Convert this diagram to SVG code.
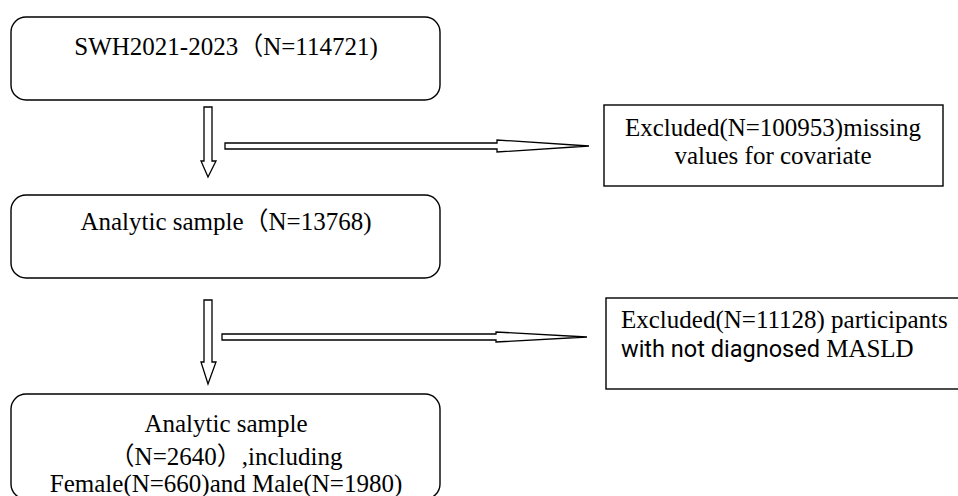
<svg xmlns="http://www.w3.org/2000/svg" width="958" height="496" viewBox="0 0 958 496">
<style>
.box{fill:#fff;stroke:#000;stroke-width:1.4}
.arr{fill:#fff;stroke:#000;stroke-width:1.3;stroke-linejoin:miter}
.t{font-family:"Liberation Serif","Noto Sans CJK SC",serif;font-size:25px;fill:#000}
.s{font-family:Roboto,"Noto Sans",sans-serif;font-size:23.5px}
</style>
<rect width="958" height="496" fill="#fff"/>
<g id="connectors">
<polygon class="arr" points="204,107 212,107 212,161 216,161 208,177 201,161 204,161"/>
<polygon class="arr" points="225,143 497,143 497,140 589,146 497,152 497,149 225,149"/>
<polygon class="arr" points="204,300 212,300 212,362 216,362 208,384 201,362 204,362"/>
<polygon class="arr" points="222,334 496,334 496,332 587,337 496,342 496,340 222,340"/>
</g>
<g id="n1">
<rect class="box" x="11" y="17" width="429" height="83" rx="15"/>
<text class="t" x="226" y="55" text-anchor="middle">SWH2021-2023（N=114721)</text>
</g>
<g id="n2">
<rect class="box" x="604" y="105" width="339" height="81"/>
<text class="t" x="773" y="136" text-anchor="middle">Excluded(N=100953)missing</text>
<text class="t" x="773" y="164" text-anchor="middle">values for covariate</text>
</g>
<g id="n3">
<rect class="box" x="11" y="195" width="429" height="83" rx="15"/>
<text class="t" x="226" y="230" text-anchor="middle">Analytic sample（N=13768)</text>
</g>
<g id="n4">
<rect class="box" x="606" y="298" width="358" height="91"/>
<text class="t" x="621" y="328">Excluded(N=11128) participants</text>
<text class="t" x="621" y="357"><tspan class="s">with not diagnosed</tspan> MASLD</text>
</g>
<g id="n5">
<rect class="box" x="11" y="394" width="429" height="105" rx="15"/>
<text class="t" x="226" y="432" text-anchor="middle">Analytic sample</text>
<text class="t" x="226" y="465" text-anchor="middle">（N=2640）,including</text>
<text class="t" x="226" y="492" text-anchor="middle">Female(N=660)and Male(N=1980)</text>
</g>
</svg>
